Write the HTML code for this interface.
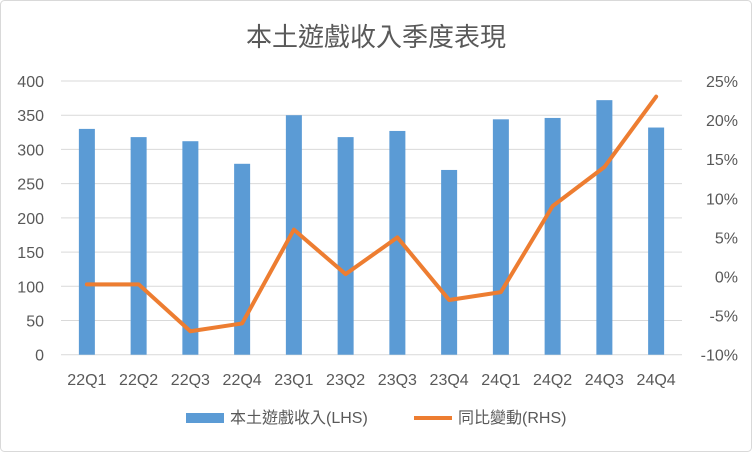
<!DOCTYPE html>
<html><head><meta charset="utf-8"><style>
body{margin:0;background:#fff;}
svg{display:block;font-family:"Liberation Sans","Noto Sans CJK TC",sans-serif;}
</style></head><body>
<svg id="c" width="752" height="452">
<rect x="0.5" y="0.5" width="751" height="451" rx="4" fill="#fff" stroke="#d9d9d9"/>
<text x="376" y="46" text-anchor="middle" font-size="26" fill="#595959">本土遊戲收入季度表現</text>
<g id="grid"></g><g id="bars"></g><g id="line"></g><g id="axes"></g>
<g>
<rect x="186" y="413" width="38" height="10" fill="#5b9bd5"/>
<text x="230" y="423" font-size="16" fill="#595959">本土遊戲收入(LHS)</text>
<line x1="414" y1="418" x2="452" y2="418" stroke="#ed7d31" stroke-width="4"/>
<text x="458" y="423" font-size="16" fill="#595959">同比變動(RHS)</text>
</g>
</svg>
<script>
const categories=["22Q1","22Q2","22Q3","22Q4","23Q1","23Q2","23Q3","23Q4","24Q1","24Q2","24Q3","24Q4"];
const revenue=[330,318,312,279,350,318,327,270,344,346,372,332];
const yoy=[-1,-1,-7,-6,6,0.3,5,-3,-2,9,14,23];
const leftTicks=[0,50,100,150,200,250,300,350,400];
const rightTicks=[-10,-5,0,5,10,15,20,25];
const X0=61,X1=682,YT=81,YB=354.7;
const ns="http://www.w3.org/2000/svg";
const bw=(X1-X0)/categories.length;
const xc=i=>X0+bw*(i+0.5);
const yL=v=>YB-(v-0)/(400-0)*(YB-YT);
const yR=v=>YB-(v+10)/(35)*(YB-YT);
function mk(t,a,p){const e=document.createElementNS(ns,t);for(const k in a)e.setAttribute(k,a[k]);p.appendChild(e);return e;}
const g=document.getElementById('grid'),b=document.getElementById('bars'),l=document.getElementById('line'),ax=document.getElementById('axes');
leftTicks.forEach(v=>{
 const ln=mk('line',{x1:X0,x2:X1,y1:yL(v),y2:yL(v),stroke:'#d9d9d9','stroke-width':1},g);
 
 
 const t=mk('text',{x:44,y:yL(v)+6,'text-anchor':'end','font-size':16,fill:'#595959'},ax);t.textContent=v;
 
 
});
rightTicks.forEach(v=>{
 const t=mk('text',{x:738,y:yR(v)+6,'text-anchor':'end','font-size':16,fill:'#595959'},ax);t.textContent=v+'%';
 
 
});
categories.forEach((c,i)=>{
 const r=mk('rect',{x:xc(i)-8,y:yL(revenue[i]),width:16,height:yL(0)-yL(revenue[i]),fill:'#5b9bd5'},b);
 
 
 const t=mk('text',{x:xc(i),y:385,'text-anchor':'middle','font-size':16,fill:'#595959'},ax);t.textContent=c;
 
 
});
const pl=mk('polyline',{points:yoy.map((v,i)=>xc(i)+','+yR(v)).join(' '),fill:'none',stroke:'#ed7d31','stroke-width':4,'stroke-linejoin':'round','stroke-linecap':'round'},l);


</script>
</body></html>
